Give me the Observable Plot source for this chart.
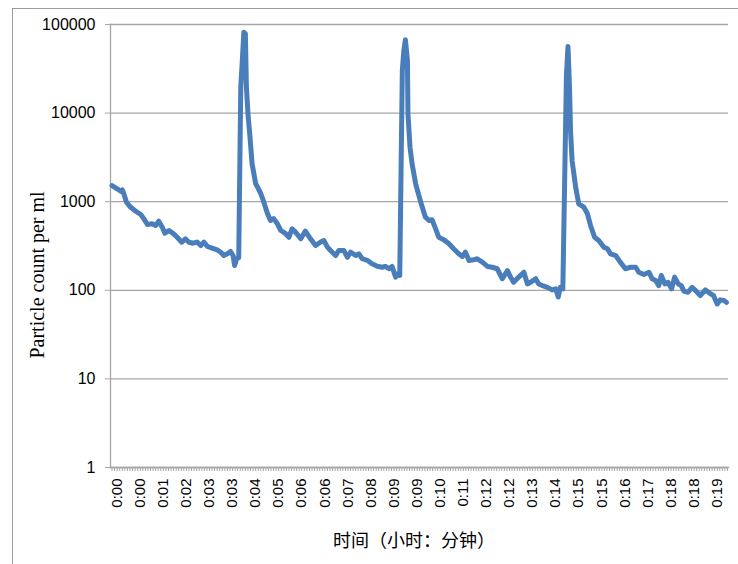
<!DOCTYPE html>
<html><head><meta charset="utf-8">
<script src="https://cdn.jsdelivr.net/npm/d3@7"></script>
<script src="https://cdn.jsdelivr.net/npm/@observablehq/plot@0.6"></script>
<style>
html,body{margin:0;padding:0;background:#fff;}
#wrap{position:relative;width:738px;height:564px;overflow:hidden;}
#frame{position:absolute;left:12px;top:8px;width:760px;height:600px;border:1px solid #9c9c9c;}
#wrap svg{position:absolute;left:0;top:0;}
</style></head><body><div id="wrap"><div id="frame"></div></div>
<script>
// elapsed time (seconds) and particle counts per ml
const seconds = [0,10,17,20,23,28,36,46,56,62,69,78,85,91,98,103,111,120,127,136,143,150,158,166,173,179,186,195,205,212,218,225,231,236,239,243,247,
251,254,257,260,262,265,269,273,280,290,296,303,309,315,322,329,338,345,351,358,368,377,387,397,406,413,420,426,436,442,452,459,465,475,481,488,498,507,517,527,533,540,546,553,557,561,
566,569,572,576,577,581,585,592,602,611,618,624,631,637,647,657,666,676,683,689,696,705,712,722,732,741,751,761,771,777,783,793,803,810,816,826,832,839,849,858,865,870,874,879,
886,889,892,894,897,904,910,920,927,933,941,949,959,966,972,982,991,1001,1011,1021,1027,1037,1047,1053,1060,1066,1071,1078,1084,1091,1097,1104,1110,1115,1123,1131,1138,1147,1157,1165,1173,1180,1186,1193,1198];
const counts = [1520,1400,1310,1360,1230,990,870,781,717,641,553,563,539,603,515,441,473,434,397,349,381,349,340,350,320,349,312,299,286,269,247,258,274,247,190,227,233,
19600,39200,81900,78500,19600,9890,5350,2700,1604,1238,987,736,614,646,568,473,438,397,494,453,381,465,381,320,349,365,307,281,247,281,281,236,269,247,258,227,217,199,187,182,186,175,186,141,153,147,
30300,50900,67200,39200,9820,4120,2680,1592,987,668,614,625,494,397,372,335,294,258,241,269,217,221,227,208,186,182,175,135,167,141,123,141,160,118,123,135,118,113,108,101,104,84,108,104,
26600,56400,19600,6360,2920,1458,947,867,730,539,397,365,307,294,258,247,208,175,182,182,160,151,160,135,129,113,147,118,123,104,141,118,113,98,95,108,99,87,101,93,87,70,78,77,73];
// category labels shown on the x axis (one every 45 seconds)
const tickLabels = ["0:00","0:00","0:01","0:02","0:03","0:03","0:04","0:05","0:06","0:06","0:07","0:08","0:09","0:09",
  "0:10","0:11","0:12","0:12","0:13","0:14","0:15","0:15","0:16","0:17","0:18","0:18","0:19"];
const labelStep = 45;
const sampleStep = 5;
const yTicks = [1,10,100,1000,10000,100000];
const xTitle = "时间（小时：分钟）";
const yTitle = "Particle count per ml";

const data = seconds.map((s,i)=>({s, c: counts[i]}));
const labelTicks = tickLabels.map((_,i)=>i*labelStep);
const minorTicks = d3.range(0, 1201, sampleStep);

const chart = Plot.plot({
  width:738, height:564, marginLeft:110, marginRight:10, marginTop:24, marginBottom:97,
  style:{fontFamily:"'Liberation Sans', Arial, sans-serif", background:"transparent", color:"#000", overflow:"visible"},
  x:{type:"linear", domain:[-3,1202]},
  y:{type:"log", domain:[1,100000]},
  marks:[
    Plot.gridY(yTicks, {stroke:"#a6a6a6", strokeOpacity:1, strokeWidth:1.3}),
    Plot.frame({anchor:"left", stroke:"#a6a6a6", strokeWidth:1.3}),
    Plot.frame({anchor:"bottom", stroke:"#a6a6a6", strokeWidth:1.3}),
    Plot.axisY({ticks:yTicks, tickFormat:d=>String(d), tickSize:5, tickPadding:10, stroke:"#a6a6a6", fontSize:16, label:null}),
    Plot.axisX({ticks:minorTicks, tickFormat:()=>"", tickSize:4, stroke:"#a6a6a6", label:null}),
    Plot.axisX({ticks:labelTicks, tickFormat:d=>tickLabels[Math.round(d/labelStep)], tickRotate:-90, tickSize:0, tickPadding:11, dx:5, fontSize:15, label:null}),
    Plot.line(data, {x:"s", y:"c", stroke:"#4a7ebb", strokeWidth:5, strokeLinejoin:"round", strokeLinecap:"round"})
  ]
});
const svg = d3.select(chart);
svg.append("text").attr("x",414).attr("y",547).attr("text-anchor","middle")
  .style("font-family","'Noto Sans CJK SC', sans-serif").style("font-size","18px").attr("fill","#000").text(xTitle);
svg.append("text").attr("transform","translate(44,275) rotate(-90)").attr("text-anchor","middle")
  .style("font-family","'Liberation Serif', 'Times New Roman', serif").style("font-size","20px").attr("fill","#000").text(yTitle);
document.getElementById("wrap").appendChild(chart);
</script>
</body></html>
